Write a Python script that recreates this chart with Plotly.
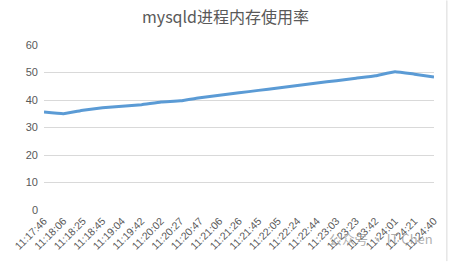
import plotly.graph_objects as go

times = ["11:17:46", "11:18:06", "11:18:25", "11:18:45", "11:19:04", "11:19:42",
         "11:20:02", "11:20:27", "11:20:47", "11:21:06", "11:21:26", "11:21:45",
         "11:22:05", "11:22:24", "11:22:44", "11:23:03", "11:23:23", "11:23:42",
         "11:24:01", "11:24:21", "11:24:40"]
mem_usage = [35.6, 35.0, 36.3, 37.2, 37.7, 38.3, 39.3, 39.7, 40.8, 41.7, 42.6,
             43.5, 44.4, 45.3, 46.2, 47.0, 47.9, 48.8, 50.3, 49.4, 48.4]
y_ticks = [0, 10, 20, 30, 40, 50, 60]
title_text = "mysqld进程内存使用率"
watermark = "公众号 · IT Chen"

fig = go.Figure()
fig.add_trace(go.Scatter(
    x=times, y=mem_usage, mode="lines",
    line=dict(color="#5b9bd5", width=3, shape="spline", smoothing=0.3),
    showlegend=False, hoverinfo="skip"))

fig.update_layout(
    width=451, height=264,
    margin=dict(l=42, r=15, t=45, b=52),
    paper_bgcolor="white", plot_bgcolor="white",
    title=dict(text=title_text, x=0.5, xanchor="center", y=0.935, yanchor="middle",
               font=dict(family="Noto Sans CJK SC", size=16, color="#595959")),
    xaxis=dict(type="category", range=[0, len(times) - 1], tickangle=-45,
               showgrid=False, showline=False, zeroline=False, ticks="",
               ticklabelstandoff=2,
               tickfont=dict(family="Liberation Sans", size=10.5, color="#595959")),
    yaxis=dict(range=[0, 60], tickvals=y_ticks, showgrid=True, gridcolor="#d9d9d9",
               gridwidth=1, zeroline=False, showline=False, ticks="",
               ticklabelstandoff=5,
               tickfont=dict(family="Liberation Sans", size=11, color="#595959")),
    font=dict(family="Liberation Sans"),
)

fig.add_shape(type="line", xref="paper", yref="paper", x0=1.033, x1=1.033, y0=-0.31, y1=1.27,
              line=dict(color="#d9d9d9", width=1))
fig.add_annotation(text=watermark, xref="paper", yref="paper", x=1.003, y=-0.175,
                   xanchor="right", yanchor="middle", showarrow=False,
                   font=dict(family="Noto Sans CJK SC", size=13, color="rgba(140,140,140,0.7)"))

fig.write_html("out.html")
